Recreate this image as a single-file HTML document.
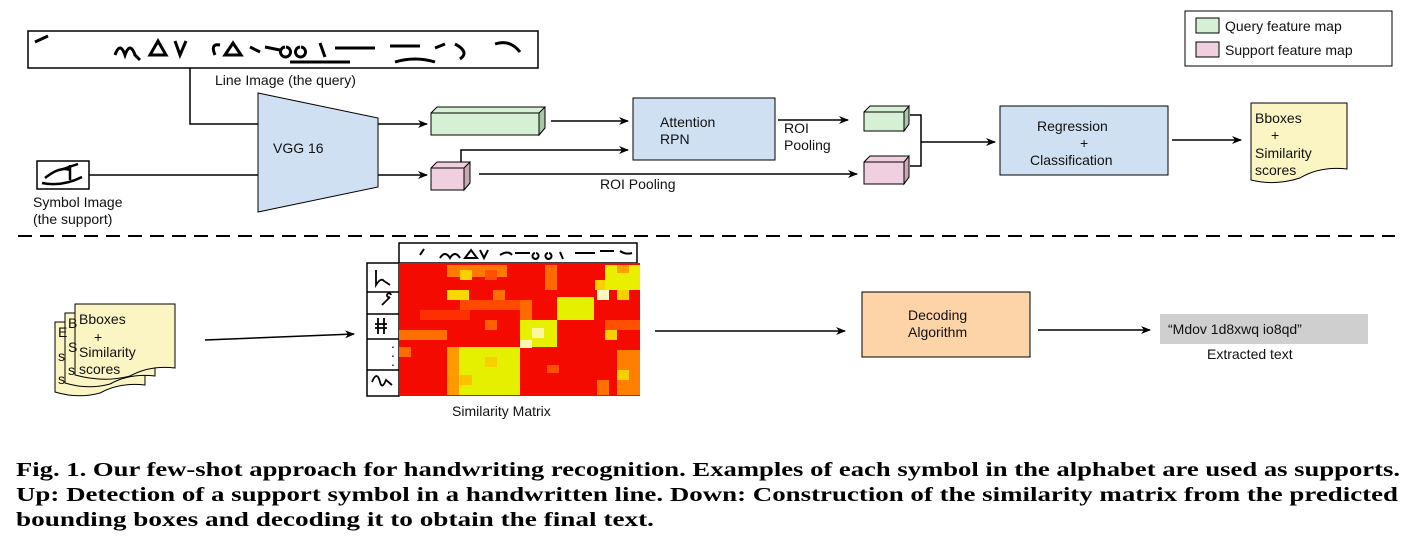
<!DOCTYPE html>
<html><head><meta charset="utf-8"><style>
body{margin:0;background:#fff;width:1419px;height:543px;overflow:hidden}
svg text{font-family:"Liberation Sans",sans-serif;font-size:14px;fill:#111}
.cap{font-family:"Liberation Serif",serif;font-weight:bold;font-size:20px;fill:#000}
</style></head><body>
<svg width="1419" height="543" viewBox="0 0 1419 543" xmlns="http://www.w3.org/2000/svg">
<defs><marker id="a" markerWidth="10" markerHeight="8" refX="9" refY="4" orient="auto" markerUnits="userSpaceOnUse"><path d="M0,0 L10,4 L0,8 L3,4z" fill="#000"/></marker></defs>
<g stroke="#000" stroke-width="1.5" fill="none">
<rect x="28" y="31" width="510" height="37" fill="#fff"/>
<path d="M35,42 L48,36 M115,55 q5,-14 10,0 q5,-14 10,0 l5,5 M150,55 l8,-14 l8,14z M175,41 l5,14 l6,-14 M215,55 q-5,-12 5,-10 M225,55 l8,-12 l8,12z M250,47 l10,5 M265,47 l15,3 M285,47 a5,5 0 1,0 1,0 M300,47 a5,5 0 1,0 1,0 M320,43 l5,14 M335,48 h40 M390,46 h30 M435,48 l10,-4 M455,44 q15,8 5,15 M495,44 q15,-5 25,8 M290,62 h60 M395,62 q20,-6 40,0" stroke-width="3"/>
<path d="M190,68 V124 H258" />
<rect x="37" y="161" width="52" height="28" fill="#fff"/>
<path d="M45,178 q15,-12 25,-8 M60,170 l18,-6 M70,165 v15 M42,183 q20,4 40,-6" stroke-width="2.5"/>
<path d="M89,175 H258"/>
<path d="M258,93 L378,118 L378,187 L258,212z" fill="#cfe0f3" stroke-width="1"/>
<path d="M378,124 H427" marker-end="url(#a)"/>
<path d="M378,175 H427" marker-end="url(#a)"/>
<path d="M431,113 L437,107 H545 V128 L539,135 H431z" fill="#d5f0d5" stroke-width="1"/>
<path d="M539,113 L545,107 V128 L539,135z" fill="#a9c6a8" stroke-width="1"/>
<path d="M431,113 H539" stroke-width="1"/>
<path d="M551,121 H628" marker-end="url(#a)"/>
<path d="M431,168 L437,162 H470 V183 L464,190 H431z" fill="#f0d0e0" stroke-width="1"/>
<path d="M464,168 L470,162 V183 L464,190z" fill="#c8a8b5" stroke-width="1"/>
<path d="M431,168 H464" stroke-width="1"/>
<path d="M461,162 V150 H628" marker-end="url(#a)"/>
<path d="M479,174 H857" marker-end="url(#a)"/>
<rect x="633" y="98" width="142" height="62" fill="#cfe0f3" stroke-width="1"/>
<path d="M778,120 H848" marker-end="url(#a)"/>
<path d="M864,112 L870,106 H909 V124 L904,131 H864z" fill="#d5f0d5" stroke-width="1"/>
<path d="M904,112 L909,106 V124 L904,131z" fill="#a9c6a8" stroke-width="1"/>
<path d="M864,112 H904" stroke-width="1"/>
<path d="M864,162 L870,156 H909 V177 L904,184 H864z" fill="#f0d0e0" stroke-width="1"/>
<path d="M904,162 L909,156 V177 L904,184z" fill="#c8a8b5" stroke-width="1"/>
<path d="M864,162 H904" stroke-width="1"/>
<path d="M910,115 H921 V166 H910 M921,142 H995" marker-end="url(#a)"/>
<rect x="1000" y="106" width="168" height="69" fill="#cfe0f3" stroke-width="1"/>
<path d="M1172,140 H1241" marker-end="url(#a)"/>
<path d="M1251,103 H1347 V169 Q1320,166 1300,178 Q1275,186 1251,180z" fill="#fbf5c3" stroke-width="1"/>
<rect x="1185" y="11" width="207" height="55" fill="#fff" stroke-width="1"/>
<rect x="1196" y="18" width="23" height="15" fill="#d5f0d5" stroke-width="1"/>
<rect x="1196" y="42" width="23" height="15" fill="#f0d0e0" stroke-width="1"/>
<path d="M18,236 H1395" stroke-dasharray="14,8" stroke-width="2"/>
<path d="M55,322 H145 V385 Q120,382 100,393 Q78,399 55,392z" fill="#fbf5c3" stroke-width="1"/>
<path d="M65,313 H155 V376 Q130,373 110,384 Q88,390 65,383z" fill="#fbf5c3" stroke-width="1"/>
<path d="M75,304 H175 V368 Q150,365 130,376 Q105,383 75,375z" fill="#fbf5c3" stroke-width="1"/>
<path d="M205,340 L354,334" marker-end="url(#a)"/>
<path d="M655,331 H845" marker-end="url(#a)"/>
<rect x="862" y="292" width="168" height="65" fill="#fdd4a8" stroke-width="1"/>
<path d="M1038,330 H1150" marker-end="url(#a)"/>
</g>
<rect x="1160" y="314" width="208" height="30" fill="#cfcfcf"/>
<g>
<rect x="399" y="243" width="238" height="20" fill="#fff" stroke="#000" stroke-width="1.5"/>
<path d="M420,255 l4,-6 M440,258 q5,-8 10,0 q5,-8 10,0 M465,258 l6,-8 l6,8z M480,250 l4,8 l4,-8 M500,255 q8,-5 12,0 M515,253 h15 M535,253 a3,3 0 1,0 1,0 M548,253 a3,3 0 1,0 1,0 M560,252 l3,7 M575,253 h20 M600,251 h14 M620,251 q6,4 12,2" stroke="#000" stroke-width="2" fill="none"/>
<rect x="367" y="263" width="32" height="133" fill="#fff" stroke="#000" stroke-width="1.5"/>
<path d="M367,292 H399 M367,314 H399 M367,339 H399 M367,370 H399" stroke="#000" stroke-width="1.5"/>
<path d="M376,270 v15 q5,-8 8,-4 l6,4 M382,305 l8,-8 a2,2 0 1,1 1,-2 M378,318 v16 M384,318 v16 M375,324 h12 M375,328 h12 M372,382 q5,-12 8,0 q2,8 6,-2 l6,5" stroke="#000" stroke-width="1.8" fill="none"/>
<text x="391" y="348" font-size="9" fill="#e07000">.</text><text x="391" y="357" font-size="9" fill="#e07000">.</text><text x="391" y="366" font-size="9" fill="#e07000">.</text>
<rect x="399" y="263" width="241" height="133" fill="#f50a00"/>
<rect x="447" y="265" width="60" height="12" fill="#ff7a00"/>
<rect x="460" y="270" width="12" height="10" fill="#f8d000"/>
<rect x="485" y="270" width="12" height="10" fill="#ff5000"/>
<rect x="545" y="265" width="12" height="25" fill="#ff6a00"/>
<rect x="595" y="280" width="12" height="10" fill="#f8d000"/>
<rect x="447" y="290" width="22" height="10" fill="#f8d800"/>
<rect x="493" y="290" width="12" height="10" fill="#ff7000"/>
<rect x="605" y="265" width="35" height="25" fill="#e8f000"/>
<rect x="617" y="265" width="12" height="8" fill="#ffa000"/>
<rect x="597" y="290" width="12" height="10" fill="#f8f8c0"/>
<rect x="617" y="290" width="12" height="10" fill="#f8d000"/>
<rect x="460" y="300" width="60" height="10" fill="#ff4a00"/>
<rect x="420" y="310" width="50" height="10" fill="#ff3000"/>
<rect x="520" y="300" width="12" height="20" fill="#ff6a00"/>
<rect x="557" y="297" width="37" height="23" fill="#e4f000"/>
<rect x="520" y="320" width="37" height="27" fill="#e8f000"/>
<rect x="532" y="328" width="12" height="10" fill="#f8f8a0"/>
<rect x="520" y="340" width="12" height="8" fill="#f8f8b0"/>
<rect x="399" y="330" width="48" height="10" fill="#ff7000"/>
<rect x="485" y="320" width="12" height="10" fill="#ff6000"/>
<rect x="605" y="320" width="35" height="10" fill="#ff5000"/>
<rect x="605" y="330" width="12" height="10" fill="#f8d000"/>
<rect x="447" y="347" width="73" height="48" fill="#e4f000"/>
<rect x="447" y="347" width="12" height="48" fill="#ff9a00"/>
<rect x="485" y="357" width="12" height="10" fill="#f8d000"/>
<rect x="460" y="375" width="12" height="10" fill="#ffc000"/>
<rect x="399" y="347" width="12" height="10" fill="#ff6a00"/>
<rect x="547" y="365" width="12" height="8" fill="#ff5000"/>
<rect x="617" y="350" width="23" height="45" fill="#ff8000"/>
<rect x="617" y="370" width="12" height="10" fill="#f8d000"/>
<rect x="597" y="380" width="12" height="15" fill="#ff7000"/>
</g>
<text x="215" y="85">Line Image  (the query)</text>
<text x="33" y="207">Symbol Image</text>
<text x="33" y="224">(the support)</text>
<text x="273" y="153">VGG 16</text>
<text x="660" y="127">Attention</text>
<text x="660" y="144">RPN</text>
<text x="784" y="133">ROI</text>
<text x="784" y="150">Pooling</text>
<text x="600" y="189">ROI Pooling</text>
<text x="1037" y="131">Regression</text>
<text x="1080" y="148">+</text>
<text x="1030" y="165">Classification</text>
<text x="1255" y="123">Bboxes</text>
<text x="1271" y="140">+</text>
<text x="1255" y="158">Similarity</text>
<text x="1255" y="175">scores</text>
<text x="1225" y="31">Query feature map</text>
<text x="1225" y="55">Support feature map</text>
<text x="58" y="337">E</text><text x="58" y="361">s</text><text x="58" y="384">s</text>
<text x="68" y="328">B</text><text x="68" y="352">S</text><text x="68" y="375">s</text>
<text x="79" y="324">Bboxes</text>
<text x="94" y="342">+</text>
<text x="79" y="357">Similarity</text>
<text x="79" y="374">scores</text>
<text x="452" y="416">Similarity Matrix</text>
<text x="908" y="320">Decoding</text>
<text x="908" y="337">Algorithm</text>
<text x="1168" y="334">“Mdov 1d8xwq io8qd”</text>
<text x="1207" y="359">Extracted text</text>
<text class="cap" x="16" y="476" textLength="1384" lengthAdjust="spacingAndGlyphs">Fig. 1. Our few-shot approach for handwriting recognition. Examples of each symbol in the alphabet are used as supports.</text>
<text class="cap" x="16" y="501" textLength="1382" lengthAdjust="spacingAndGlyphs">Up: Detection of a support symbol in a handwritten line. Down: Construction of the similarity matrix from the predicted</text>
<text class="cap" x="16" y="526" textLength="638" lengthAdjust="spacingAndGlyphs">bounding boxes and decoding it to obtain the final text.</text>
</svg>
</body></html>
